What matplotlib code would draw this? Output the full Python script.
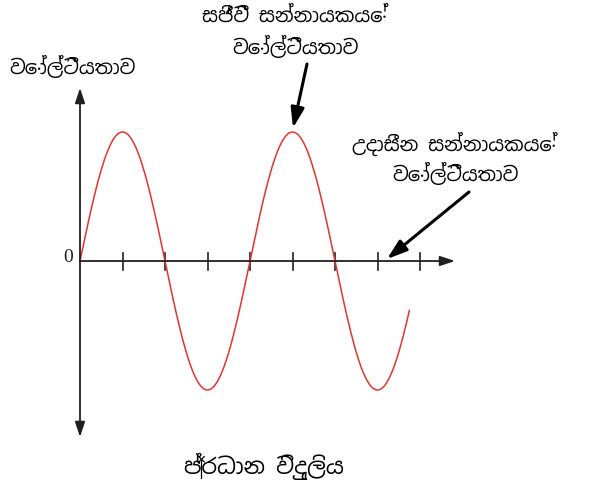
import numpy as np
import matplotlib.pyplot as plt
from matplotlib import font_manager

# illustration: phase (live) voltage as a sine, neutral voltage at 0
n_ticks = 8
period = 4          # in tick units
amplitude = 1.0
x_end = 7.75        # where the drawn curve stops
y_label = "වෝල්ටීයතාව"
live_label = "සජීවී සන්නායකයේ\nවෝල්ටීයතාව"
neutral_label = "උදාසීන සන්නායකයේ\nවෝල්ටීයතාව"
x_label = "ප්‍රධාන විදුලිය"

# look for something that can draw Sinhala
fams = []
for f in font_manager.fontManager.ttflist:
    if "sinhala" in f.name.lower() or "iskoola" in f.name.lower():
        fams.append(f.name)
fams = list(dict.fromkeys(fams)) + ["DejaVu Sans"]
plt.rcParams["font.family"] = fams

px_x = 42.5
px_y = 129.0
ox, oy = 80, 261
W, H = 603, 483

fig = plt.figure(figsize=(W / 100, H / 100), dpi=100)
ax = fig.add_axes([0, 0, 1, 1])
ax.set_xlim(-ox / px_x, (W - ox) / px_x)
ax.set_ylim(-(H - oy) / px_y, oy / px_y)
ax.axis("off")

x = np.linspace(0, x_end, 500)
ax.plot(x, amplitude * np.sin(2 * np.pi * x / period), color="#e3342f", lw=1.1, zorder=3)

k = dict(arrowstyle="-|>,head_length=0.9,head_width=0.3", color="#231f20", lw=1.3, shrinkA=0, shrinkB=0)
ax.annotate("", xy=((455 - ox) / px_x, 0), xytext=(0, 0), arrowprops=k)
ax.annotate("", xy=(0, (oy - 88) / px_y), xytext=(0, 0), arrowprops=k)
ax.annotate("", xy=(0, -(437 - oy) / px_y), xytext=(0, 0), arrowprops=k)

for i in range(1, n_ticks + 1):
    ax.plot([i, i], [-8.5 / px_y, 8.5 / px_y], color="#231f20", lw=1.2)

ax.text(-12 / px_x, 3 / px_y, "0", fontsize=14, ha="center", va="center",
        family=["Liberation Serif"], color="#231f20")

ax.text((72 - ox) / px_x, (oy - 68) / px_y, y_label, fontsize=14, ha="center", va="center")
ax.text((295 - ox) / px_x, (oy - 33) / px_y, live_label, fontsize=14, ha="center", va="center",
        linespacing=1.5)
ax.text((455 - ox) / px_x, (oy - 159) / px_y, neutral_label, fontsize=14, ha="center", va="center",
        linespacing=1.35)
ax.text((264 - ox) / px_x, (oy - 466) / px_y, x_label, fontsize=16, ha="center", va="center")

a = dict(arrowstyle="-|>,head_length=1.2,head_width=0.4", color="black", lw=2.2, shrinkA=0, shrinkB=0)
ax.annotate("", xy=((293 - ox) / px_x, (oy - 128) / px_y),
            xytext=((307 - ox) / px_x, (oy - 64) / px_y), arrowprops=a)
ax.annotate("", xy=((387 - ox) / px_x, (oy - 259) / px_y),
            xytext=((469 - ox) / px_x, (oy - 192) / px_y), arrowprops=a)

fig.savefig("out.png", dpi=100)
